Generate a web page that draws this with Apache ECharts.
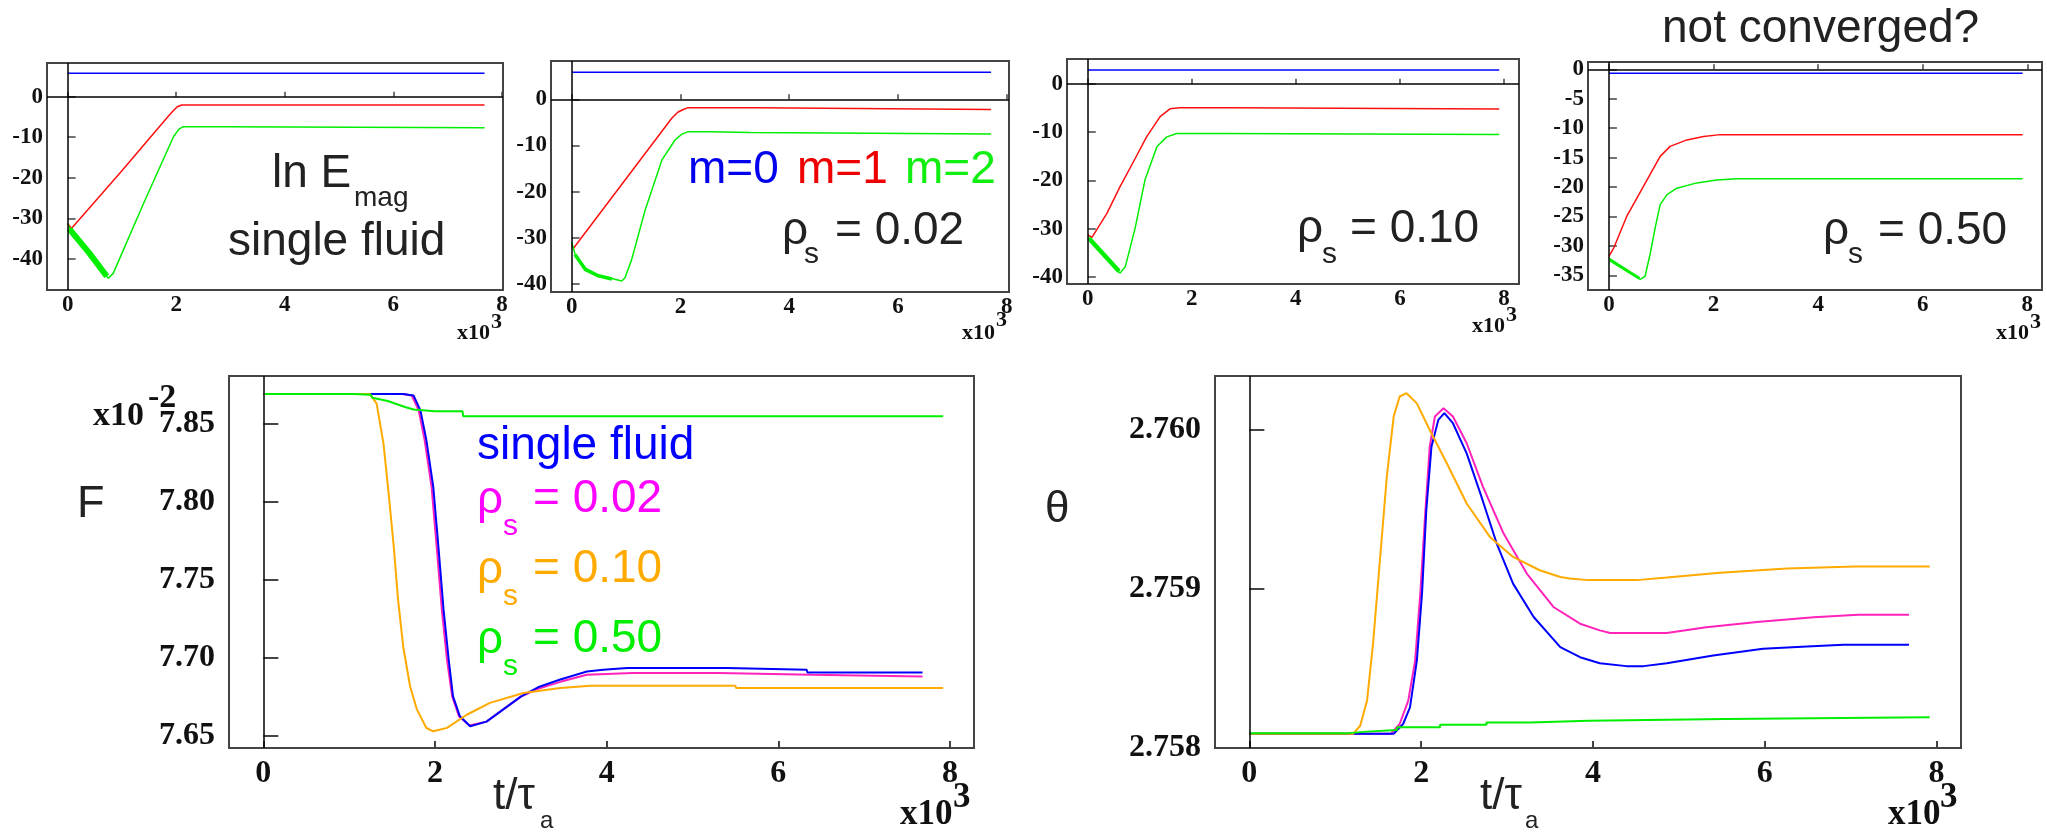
<!DOCTYPE html>
<html><head><meta charset="utf-8">
<script src="https://cdn.jsdelivr.net/npm/echarts@6/dist/echarts.min.js"></script>
<style>html,body{margin:0;padding:0;background:#fff}#c{width:2047px;height:835px}</style>
</head><body><div id="c"></div>
<script>
// ---------- tick values ----------
const tTicks = [0, 2, 4, 6, 8];
const emagTicksA = [0, -10, -20, -30, -40];
const emagTicksB = [0, -5, -10, -15, -20, -25, -30, -35];
const fTicks = [7.65, 7.70, 7.75, 7.80, 7.85];
const thetaTicks = [2.758, 2.759, 2.760];

// ---------- top panels: ln E_mag (t in 10^3) ----------
// single fluid
const sf_m0 = [[0,5.8],[7.68,5.8]];
const sf_m1 = [[0,-31.3],[0.07,-32.5],[1.0,-18.3],[1.85,-4.9],[1.95,-3.4],[2.02,-2.5],[2.10,-2.05],[7.68,-2.05]];
const sf_m2 = [[0,-31.3],[0.05,-33],[0.75,-44.8],[0.84,-43.6],[1.39,-26.6],[1.95,-9.9],[2.05,-8],[2.13,-7.4],[2.9,-7.4],[2.92,-7.65],[7.68,-7.65]];
const sf_m2noise = [[0.03,-32.6],[0.4,-38.6],[0.72,-44.3]];
// rho_s = 0.02
const r02_m0 = [[0,5.85],[7.71,5.85]];
const r02_m1 = [[0,-31.5],[0.03,-32.3],[1.84,-4.1],[1.95,-2.8],[2.05,-2.2],[2.14,-1.8],[3.40,-1.8],[3.42,-2.2],[7.71,-2.2]];
const r02_m2 = [[0,-30.9],[0.06,-33.4],[0.25,-36.6],[0.49,-38.1],[0.74,-38.8],[0.92,-39.3],[0.98,-38.6],[1.10,-34.8],[1.35,-24],[1.66,-13.1],[1.90,-8.8],[2.02,-7.6],[2.14,-7.0],[2.54,-7.0],[2.56,-7.2],[3.28,-7.2],[3.30,-7.5],[7.71,-7.5]];
const r02_m2noise = [[0.06,-33.6],[0.25,-36.8],[0.49,-38.2],[0.74,-38.9]];
// rho_s = 0.10
const r10_m0 = [[0,2.83],[7.91,2.83]];
const r10_m1 = [[0,-31.3],[0.08,-31.8],[0.37,-26.8],[0.62,-21.3],[0.88,-16.1],[1.13,-11],[1.39,-6.8],[1.58,-5.2],[1.77,-4.97],[2.8,-4.97],[2.83,-5.24],[7.91,-5.24]];
const r10_m2 = [[0,-31.7],[0.62,-39.2],[0.72,-37.9],[0.91,-29.9],[1.1,-19.9],[1.33,-13],[1.52,-11],[1.71,-10.3],[2.54,-10.3],[2.57,-10.5],[7.91,-10.5]];
const r10_m2noise = [[0.02,-32],[0.6,-38.8]];
// rho_s = 0.50
const r50_m0 = [[0,-0.68],[7.91,-0.68]];
const r50_m1 = [[0,-31.8],[0.09,-30.4],[0.34,-25],[0.66,-19.9],[0.98,-14.8],[1.17,-13.1],[1.49,-12],[1.81,-11.4],[2.13,-11.1],[7.91,-11.1]];
const r50_m2 = [[0,-32.1],[0.6,-35.7],[0.69,-35.2],[0.79,-31.3],[0.89,-26.7],[0.98,-23],[1.11,-21.3],[1.3,-20.2],[1.68,-19.3],[2.06,-18.8],[2.45,-18.6],[7.91,-18.6]];
const r50_m2noise = [[0.02,-32.4],[0.58,-35.5]];

// ---------- bottom-left: F (x10^-2) ----------
const F_single = [[0,7.869],[1.63,7.869],[1.75,7.868],[1.83,7.8585],[1.90,7.8393],[1.98,7.8094],[2.04,7.771],[2.10,7.7306],[2.16,7.6986],[2.21,7.6752],[2.29,7.6624],[2.41,7.656],[2.60,7.659],[2.80,7.667],[3.0,7.675],[3.2,7.681],[3.46,7.686],[3.77,7.6911],[3.96,7.6922],[4.24,7.6933],[5.40,7.6933],[5.41,7.6922],[6.33,7.6922],[6.34,7.6905],[7.68,7.6905]];
const F_r02 = [[0,7.869],[1.62,7.869],[1.73,7.868],[1.81,7.8585],[1.88,7.8393],[1.96,7.8094],[2.02,7.771],[2.08,7.7306],[2.14,7.6986],[2.20,7.6752],[2.28,7.6624],[2.40,7.6565],[2.60,7.659],[2.80,7.667],[3.0,7.675],[3.2,7.680],[3.46,7.6845],[3.77,7.689],[4.3,7.6901],[5.30,7.6901],[5.31,7.689],[6.39,7.689],[6.40,7.688],[7.68,7.688]];
const F_r10 = [[0,7.869],[1.24,7.869],[1.32,7.8628],[1.40,7.8372],[1.46,7.8052],[1.52,7.771],[1.57,7.737],[1.63,7.707],[1.71,7.6815],[1.79,7.6667],[1.90,7.6549],[1.98,7.6528],[2.14,7.655],[2.37,7.6634],[2.64,7.671],[3.03,7.6773],[3.46,7.6805],[3.81,7.682],[5.50,7.682],[5.51,7.6805],[7.92,7.6805]];
const F_r50 = [[0,7.869],[1.05,7.869],[1.06,7.8685],[1.25,7.8685],[1.27,7.8665],[1.45,7.8645],[1.65,7.8606],[1.75,7.859],[2.0,7.8579],[2.32,7.8579],[2.33,7.8547],[7.92,7.8547]];

// ---------- bottom-right: theta ----------
const TH_single = [[0,2.75809],[1.68,2.75809],[1.79,2.758151],[1.87,2.758256],[1.95,2.75855],[2.01,2.758971],[2.06,2.759496],[2.12,2.759895],[2.20,2.760064],[2.27,2.760106],[2.37,2.760043],[2.53,2.759853],[2.69,2.7596],[2.88,2.759286],[3.07,2.759034],[3.31,2.758824],[3.62,2.758634],[3.85,2.758571],[4.08,2.758533],[4.39,2.758515],[4.59,2.758515],[4.86,2.758533],[5.40,2.758582],[5.98,2.758624],[6.49,2.758639],[6.92,2.758649],[7.68,2.758649]];
const TH_r02 = [[0,2.75809],[1.65,2.75809],[1.75,2.758151],[1.85,2.758298],[1.93,2.75855],[1.99,2.758971],[2.05,2.759496],[2.10,2.759895],[2.16,2.760085],[2.26,2.760137],[2.37,2.760085],[2.53,2.759917],[2.72,2.759643],[2.96,2.759349],[3.23,2.759097],[3.54,2.758887],[3.85,2.758782],[4.08,2.75874],[4.20,2.758723],[4.86,2.758723],[5.32,2.75876],[5.91,2.758792],[6.57,2.758823],[7.09,2.758838],[7.68,2.758838]];
const TH_r10 = [[0,2.75809],[1.21,2.75809],[1.29,2.75814],[1.37,2.758298],[1.44,2.758656],[1.52,2.759181],[1.60,2.759706],[1.68,2.760085],[1.75,2.760211],[1.83,2.760232],[1.95,2.760168],[2.10,2.760],[2.30,2.75979],[2.53,2.759538],[2.80,2.759328],[3.07,2.759202],[3.38,2.759118],[3.62,2.759076],[3.73,2.759066],[3.95,2.759056],[4.51,2.759056],[4.86,2.759072],[5.48,2.759103],[6.26,2.759129],[7.05,2.759141],[7.92,2.759141]];
const TH_r50 = [[0,2.758092],[1.11,2.758103],[1.37,2.758113],[1.72,2.75813],[2.22,2.758147],[2.76,2.758161],[3.27,2.758172],[3.95,2.758183],[5.54,2.758193],[7.92,2.758193]];

// ---------- layout ----------
const grids = [
  [47, 63, 456, 227], [551, 61, 458, 231], [1067, 59, 452, 225], [1588, 62, 454, 228],
  [229, 376, 745, 372], [1215, 376, 746, 372]
];
const xr = [[-0.38, 8.02], [-0.38, 8.04], [-0.40, 8.29], [-0.40, 8.28], [-0.40, 8.28], [-0.40, 8.285]];
const yr = [[-47.7, 8.3], [-41.7, 8.29], [-41.45, 5.11], [-37.5, 1.24], [7.6421, 7.8805], [2.758, 2.76034]];
const yt = [emagTicksA, emagTicksA, emagTicksA, emagTicksB, fTicks, thetaTicks];

const SERIF_SMALL = {fontFamily: 'Liberation Serif', fontSize: 23, fontWeight: 'bold', color: '#111'};
const SERIF_BIG = {fontFamily: 'Liberation Serif', fontSize: 32, fontWeight: 'bold', color: '#111'};

const xAxes = grids.map((g, i) => {
  const big = i >= 4;
  return {
    gridIndex: i, type: 'value', min: xr[i][0], max: xr[i][1],
    axisLine: {show: false}, splitLine: {show: false},
    axisTick: {show: true, inside: true, length: big ? 7 : 5, customValues: tTicks, lineStyle: {color: '#444', width: big ? 2 : 1.5}},
    axisLabel: Object.assign({customValues: tTicks, margin: big ? 10 : 4}, big ? SERIF_BIG : SERIF_SMALL)
  };
});
const yAxes = grids.map((g, i) => {
  const big = i >= 4;
  const fmt = i === 4 ? (v => v.toFixed(2)) : i === 5 ? (v => v.toFixed(3)) : (v => String(Math.round(v)));
  return {
    gridIndex: i, type: 'value', min: yr[i][0], max: yr[i][1],
    axisLine: {show: false}, splitLine: {show: false},
    axisTick: {show: true, inside: true, length: big ? 15 : 8, customValues: yt[i], lineStyle: {color: '#444', width: big ? 2 : 1.5}},
    axisLabel: Object.assign({customValues: yt[i], margin: big ? 14 : 4, formatter: fmt}, big ? SERIF_BIG : SERIF_SMALL)
  };
});

const BLUE = '#0000ff', RED = '#ff1010', GREEN = '#00ee00';
const PINK = '#ff22bb', ORANGE = '#ffaa00', BGREEN = '#00ee00';

function ln(i, data, color, w, extra) {
  return Object.assign({
    type: 'line', xAxisIndex: i, yAxisIndex: i, data: data, showSymbol: false, symbol: 'none',
    lineStyle: {color: color, width: w}, itemStyle: {color: color}, silent: true, animation: false, clip: true
  }, extra || {});
}
function zeroLines(both) {
  return {markLine: {silent: true, symbol: ['none', 'none'], label: {show: false}, animation: false,
    lineStyle: {color: '#000', width: 1.5, type: 'solid'},
    data: both ? [{xAxis: 0}, {yAxis: 0}] : [{xAxis: 0}]}};
}

const topSets = [
  [sf_m0, sf_m1, sf_m2, sf_m2noise, 6],
  [r02_m0, r02_m1, r02_m2, r02_m2noise, 3.5],
  [r10_m0, r10_m1, r10_m2, r10_m2noise, 4.5],
  [r50_m0, r50_m1, r50_m2, r50_m2noise, 3]
];
const series = [];
topSets.forEach((s, i) => {
  series.push(ln(i, s[0], BLUE, 1.5, zeroLines(true)));
  series.push(ln(i, s[1], RED, 1.5));
  series.push(ln(i, s[2], GREEN, 1.5));
  series.push(ln(i, s[3], GREEN, s[4]));
});
series.push(ln(4, F_r02, PINK, 2, zeroLines(false)));
series.push(ln(4, F_single, BLUE, 2));
series.push(ln(4, F_r10, ORANGE, 2));
series.push(ln(4, F_r50, BGREEN, 2));
series.push(ln(5, TH_r02, PINK, 2, zeroLines(false)));
series.push(ln(5, TH_single, BLUE, 2));
series.push(ln(5, TH_r10, ORANGE, 2));
series.push(ln(5, TH_r50, BGREEN, 2, {step: 'end'}));

// ---------- text annotations ----------
const SANS = 'Liberation Sans';
function T(x, base, str, size, color, family, weight) {
  const fam = family || SANS;
  return {type: 'text', x: x, y: base - 0.345 * size, silent: true, z: 100,
    style: {text: str, fill: color || '#222', fontSize: size, fontFamily: fam, fontWeight: weight || 'normal',
      align: 'left', verticalAlign: 'middle', textAlign: 'left', textVerticalAlign: 'middle'}};
}
const BF = 'Liberation Serif';
const texts = [
  T(1662, 45, 'not converged?', 46),
  T(272, 190, 'ln E', 46), T(354, 208, 'mag', 28), T(228, 258, 'single fluid', 46),
  T(688, 186, 'm=0', 46, '#0000ee'), T(797, 186, 'm=1', 46, '#ee0000'), T(905, 186, 'm=2', 46, '#11ee11'),
  T(782, 247, 'ρ', 46), T(804, 265, 's', 30), T(835, 247, '= 0.02', 46),
  T(1297, 245, 'ρ', 46), T(1322, 265, 's', 30), T(1350, 245, '= 0.10', 46),
  T(1823, 247, 'ρ', 46), T(1848, 265, 's', 30), T(1878, 247, '= 0.50', 46),
  T(457, 341, 'x10', 22, '#111', BF, 'bold'), T(491, 330, '3', 22, '#111', BF, 'bold'),
  T(962, 341, 'x10', 22, '#111', BF, 'bold'), T(996, 328, '3', 22, '#111', BF, 'bold'),
  T(1472, 334, 'x10', 22, '#111', BF, 'bold'), T(1506, 323, '3', 22, '#111', BF, 'bold'),
  T(1996, 341, 'x10', 22, '#111', BF, 'bold'), T(2030, 330, '3', 22, '#111', BF, 'bold'),
  // bottom
  T(93, 428, 'x10', 34, '#111', BF, 'bold'), T(148, 410, '-2', 34, '#111', BF, 'bold'),
  T(77, 520, 'F', 45), T(1045, 525, 'θ', 44),
  T(477, 462, 'single fluid', 46, '#0000ff'),
  T(477, 516, 'ρ', 46, '#ff00ff'), T(503, 537, 's', 30, '#ff00ff'), T(533, 515, '= 0.02', 46, '#ff00ff'),
  T(477, 586, 'ρ', 46, '#ffaa00'), T(503, 607, 's', 30, '#ffaa00'), T(533, 585, '= 0.10', 46, '#ffaa00'),
  T(477, 656, 'ρ', 46, '#00ee00'), T(503, 677, 's', 30, '#00ee00'), T(533, 655, '= 0.50', 46, '#00ee00'),
  T(493, 812, 't/τ', 44), T(540, 830, 'a', 24),
  T(1480, 812, 't/τ', 44), T(1525, 830, 'a', 24),
  T(900, 827, 'x10', 35, '#111', BF, 'bold'), T(953, 810, '3', 35, '#111', BF, 'bold'),
  T(1888, 827, 'x10', 35, '#111', BF, 'bold'), T(1940, 810, '3', 35, '#111', BF, 'bold')
];

const chart = echarts.init(document.getElementById('c'), null, {renderer: 'canvas'});
chart.setOption({
  animation: false,
  backgroundColor: '#ffffff',
  grid: grids.map(g => ({left: g[0], top: g[1], width: g[2], height: g[3], show: true,
    borderColor: '#444', borderWidth: 2, backgroundColor: 'rgba(0,0,0,0)'})),
  xAxis: xAxes,
  yAxis: yAxes,
  series: series,
  graphic: {elements: texts}
});
</script>
</body></html>
